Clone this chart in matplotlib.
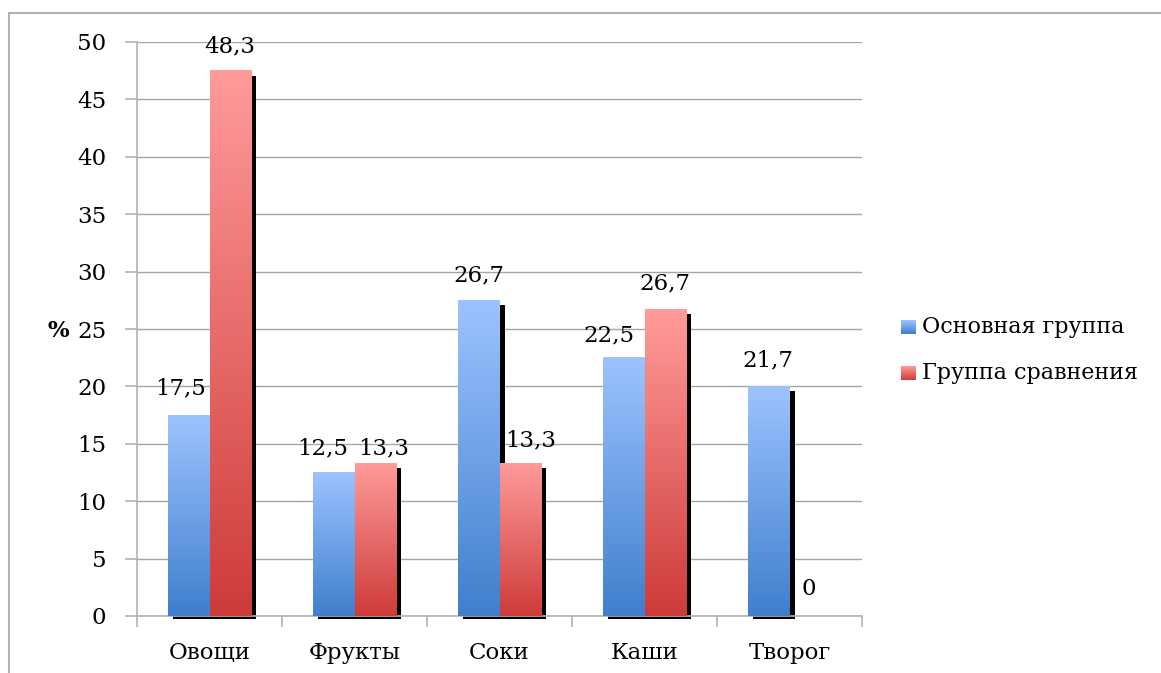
import numpy as np
import matplotlib
matplotlib.use("Agg")
import matplotlib.pyplot as plt
import matplotlib.transforms as mtransforms
from matplotlib.patches import Rectangle
from matplotlib.lines import Line2D
from matplotlib.colors import LinearSegmentedColormap

plt.rcParams['font.family'] = ['DejaVu Serif']

# данные
categories = ["Овощи", "Фрукты", "Соки", "Каши", "Творог"]
series_names = ["Основная группа", "Группа сравнения"]
main_heights = [17.5, 12.5, 27.5, 22.5, 20.0]
comp_heights = [47.5, 13.3, 13.3, 26.7, 0.0]
main_labels = ["17,5", "12,5", "26,7", "22,5", "21,7"]
comp_labels = ["48,3", "13,3", "13,3", "26,7", "0"]

# label nudges (pixels, from top centre of each bar)
main_nudge = [(-8, 27), (-11, 24), (0, 25), (-15, 22), (-1, 26)]
comp_nudge = [(0, 24), (8, 15), (10, 23), (0, 26), (-1, 27)]

blue_cmap = LinearSegmentedColormap.from_list("b", ["#3f7fcd", "#9dc3ff"])
red_cmap = LinearSegmentedColormap.from_list("r", ["#cd3b39", "#ff9b9a"])
grad = np.linspace(0, 1, 256).reshape(-1, 1)

FS = 16.5
W, H = 1161, 673
fig = plt.figure(figsize=(W / 100, H / 100), dpi=100)
ax = fig.add_axes([137 / W, 1 - 616 / H, 725 / W, 574 / H])

ax.set_xlim(-0.5, 4.5)
ax.set_ylim(0, 50)

bw = 0.286
x = np.arange(len(categories))
px_y = 50 / 574  # one pixel in data units
shadow = ax.transData + mtransforms.ScaledTranslation(0.05, -0.03, fig.dpi_scale_trans)

for heights, sign in [(main_heights, -1), (comp_heights, 1)]:
    for xi, h in zip(x, heights):
        x0 = xi + (sign - 1) / 2 * bw
        if h > 0:
            ax.add_patch(Rectangle((x0, 0), bw, h - 2 * px_y, facecolor="black", edgecolor="none",
                                   transform=shadow, clip_on=False, zorder=2))

for heights, cmap, sign in [(main_heights, blue_cmap, -1), (comp_heights, red_cmap, 1)]:
    for xi, h in zip(x, heights):
        x0 = xi + (sign - 1) / 2 * bw
        if h > 0:
            ax.imshow(grad, cmap=cmap, origin="lower", aspect="auto",
                      extent=[x0, x0 + bw, 0, h], zorder=3, interpolation="bilinear")

ax.set_xlim(-0.5, 4.5)
ax.set_ylim(0, 50)

for heights, labels, nudge, sign in [(main_heights, main_labels, main_nudge, -1),
                                     (comp_heights, comp_labels, comp_nudge, 1)]:
    for xi, h, lab, (dx, dy) in zip(x, heights, labels, nudge):
        ax.annotate(lab, (xi + sign * bw / 2, h), xytext=(dx, dy), textcoords="offset pixels",
                    ha="center", va="center", fontsize=FS, zorder=5, annotation_clip=False)

# сетка и оси
ax.set_yticks(np.arange(0, 51, 5))
ax.yaxis.grid(True, color="#a6a6a6", linewidth=1.0)
ax.set_axisbelow(True)
ax.set_xticks(np.arange(-0.5, 5, 1))
ax.set_xticklabels([])
ax.set_xticks(x, minor=True)
ax.set_xticklabels(categories, minor=True)
ax.tick_params(axis="x", which="major", length=8, color="#b3b3b3", width=1.2)
ax.tick_params(axis="x", which="minor", length=0, pad=19, labelsize=FS)
ax.tick_params(axis="y", length=9, color="#b3b3b3", width=1.2, pad=13, labelsize=FS)
for s in ["top", "right"]:
    ax.spines[s].set_visible(False)
for s in ["left", "bottom"]:
    ax.spines[s].set_color("#b3b3b3")
    ax.spines[s].set_linewidth(1.2)

fig.text(58 / W, 1 - 331 / H, "%", fontsize=FS, fontweight="bold", ha="center", va="center")

# легенда
for i, (name, cmap) in enumerate(zip(series_names, [blue_cmap, red_cmap])):
    yc = 327 + i * 46
    lax = fig.add_axes([901 / W, 1 - (yc + 7) / H, 15 / W, 14 / H])
    lax.imshow(grad, cmap=cmap, origin="lower", aspect="auto")
    lax.axis("off")
    fig.text(922 / W, 1 - yc / H, name, fontsize=16, ha="left", va="center")

# рамка
fig.add_artist(Line2D([9 / W, 9 / W], [0, 1 - 13 / H], transform=fig.transFigure, color="#b3b3b3", lw=1.5))
fig.add_artist(Line2D([9 / W, 1], [1 - 13 / H, 1 - 13 / H], transform=fig.transFigure, color="#b3b3b3", lw=1.5))

fig.savefig("out.png", dpi=100)
